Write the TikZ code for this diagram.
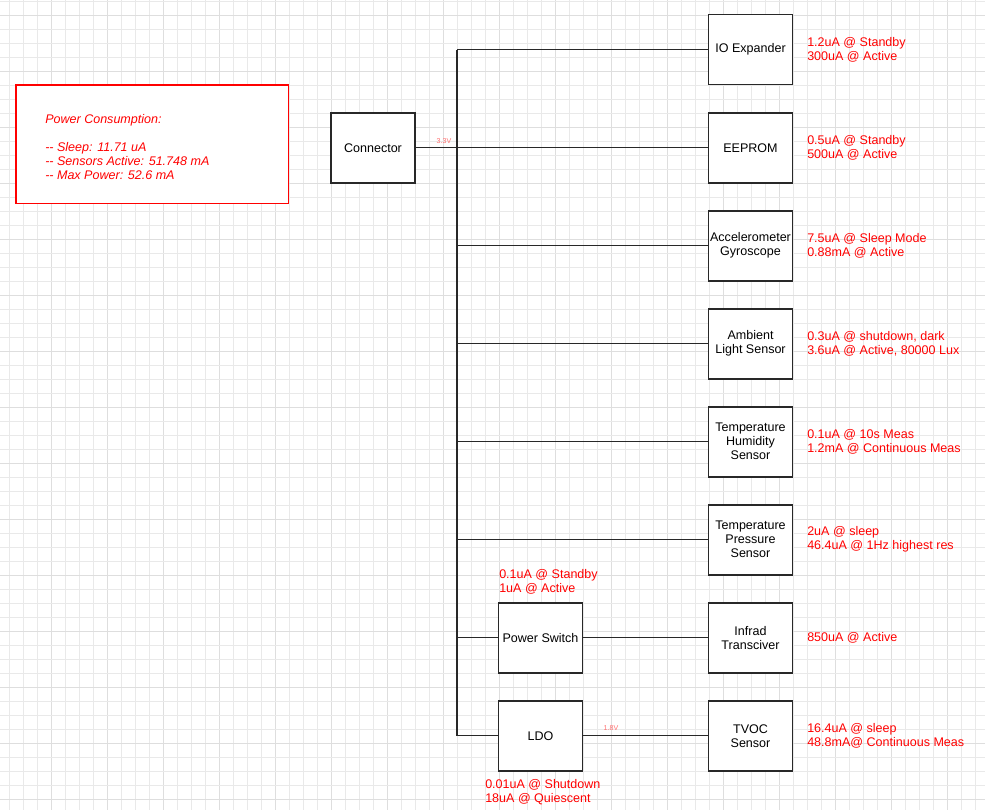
\documentclass[tikz,border=0pt]{standalone}
\usepackage{fontspec}
\setmainfont{Liberation Sans}
\definecolor{gridminor}{RGB}{233,233,233}
\definecolor{gridmajor}{RGB}{222,222,222}
\definecolor{boxline}{RGB}{40,40,40}
\definecolor{vlabel}{RGB}{255,110,110}
\definecolor{cred}{RGB}{255,0,0}
\begin{document}
\begin{tikzpicture}[x=0.75pt,y=-0.75pt,
  blk/.style={draw=boxline,line width=1.4pt,fill=white,minimum width=63pt,minimum height=52.5pt,inner sep=0pt,align=center,font=\fontsize{9.4}{10.5}\selectfont,text=black},
  wire/.style={draw=boxline,line width=1.1pt},
  note/.style={anchor=west,inner sep=0pt,align=left,text=cred,font=\fontsize{9.4}{10.5}\selectfont},
  volt/.style={inner sep=0pt,text=vlabel,font=\fontsize{5.3}{6}\selectfont}]
\fill[white] (0,0) rectangle (985,810);
\useasboundingbox (0,0) rectangle (985,810);
% grid
\foreach \i in {0,...,70}{
  \pgfmathtruncatemacro{\m}{mod(\i,4)}
  \ifnum\m=3 \draw[gridmajor,line width=0.75pt] ({9.4+14*\i},0) -- ({9.4+14*\i},810);
  \else \draw[gridminor,line width=0.75pt] ({9.4+14*\i},0) -- ({9.4+14*\i},810); \fi
}
\foreach \j in {0,...,57}{
  \pgfmathtruncatemacro{\m}{mod(\j,4)}
  \ifnum\m=1 \draw[gridmajor,line width=0.75pt] (0,{1+14*\j}) -- (985,{1+14*\j});
  \else \draw[gridminor,line width=0.75pt] (0,{1+14*\j}) -- (985,{1+14*\j}); \fi
}
% power consumption box
\draw[cred,line width=1.2pt,fill=white] (16,85) rectangle (288.5,203.5);
\node[note,font=\fontsize{9.4}{10.5}\selectfont\itshape] (pc) at (45,147)
  {Power Consumption:\\[10.5pt]-{}- Sleep: 11.71 uA\\-{}- Sensors Active: 51.748 mA\\-{}- Max Power: 52.6 mA};
% blocks
\node[blk] (conn) at (373,147.7) {Connector};
\node[blk] (io) at (750.5,49.5) {IO Expander};
\node[blk] (ee) at (750.5,147.7) {EEPROM};
\node[blk] (acc) at (750.5,245.7) {Accelerometer\\Gyroscope};
\node[blk] (als) at (750.5,343.7) {Ambient\\Light Sensor};
\node[blk] (thum) at (750.5,441.7) {Temperature\\Humidity\\Sensor};
\node[blk] (tpres) at (750.5,539.7) {Temperature\\Pressure\\Sensor};
\node[blk] (ir) at (750.5,637.7) {Infrad\\Transciver};
\node[blk] (tvoc) at (750.5,735.7) {TVOC\\Sensor};
\node[blk] (psw) at (540.5,637.7) {Power Switch};
\node[blk] (ldo) at (540.5,735.7) {LDO};
% trunk coordinates
\coordinate (t1) at (457,49.5);
\coordinate (t3) at (457,245.7);
\coordinate (t4) at (457,343.7);
\coordinate (t5) at (457,441.7);
\coordinate (t6) at (457,539.7);
\coordinate (t7) at (457,637.7);
\coordinate (t8) at (457,735.7);
% wires
\draw[wire] (t1) -- (t8);
\draw[wire] (t1) -- (io.west);
\draw[wire] (conn.east) -- (ee.west);
\draw[wire] (t3) -- (acc.west);
\draw[wire] (t4) -- (als.west);
\draw[wire] (t5) -- (thum.west);
\draw[wire] (t6) -- (tpres.west);
\draw[wire] (t7) -- (psw.west);
\draw[wire] (psw.east) -- (ir.west);
\draw[wire] (t8) -- (ldo.west);
\draw[wire] (ldo.east) -- (tvoc.west);
% voltage labels
\node[volt] (v33) at (444,141) {3.3V};
\node[volt] (v18) at (611,728.5) {1.8V};
% current notes
\node[note] (nio) at (807,49.5) {1.2uA @ Standby\\300uA @ Active};
\node[note] (nee) at (807,147.7) {0.5uA @ Standby\\500uA @ Active};
\node[note] (nacc) at (807,245.7) {7.5uA @ Sleep Mode\\0.88mA @ Active};
\node[note] (nals) at (807,343.7) {0.3uA @ shutdown, dark\\3.6uA @ Active, 80000 Lux};
\node[note] (nthum) at (807,441.7) {0.1uA @ 10s Meas\\1.2mA @ Continuous Meas};
\node[note] (ntpres) at (807,539.7) {2uA @ sleep\\46.4uA @ 1Hz highest res};
\node[note] (nir) at (807,637.7) {850uA @ Active};
\node[note] (ntvoc) at (807,735.7) {16.4uA @ sleep\\48.8mA@ Continuous Meas};
\node[note] (npsw) at (499,581.7) {0.1uA @ Standby\\1uA @ Active};
\node[note] (nldo) at (485,791.7) {0.01uA @ Shutdown\\18uA @ Quiescent};
\end{tikzpicture}
\end{document}
